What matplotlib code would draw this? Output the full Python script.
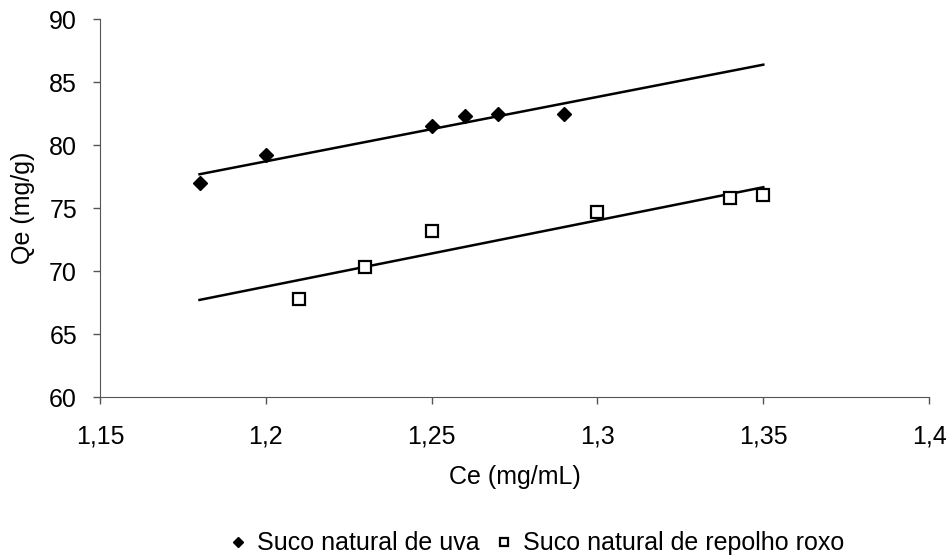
import matplotlib.pyplot as plt
import numpy as np

plt.rcParams['font.family'] = ['Liberation Sans', 'DejaVu Sans']

# Suco natural de uva
uva_ce = [1.18, 1.20, 1.25, 1.26, 1.27, 1.29]
uva_qe = [77.0, 79.2, 81.5, 82.3, 82.5, 82.5]

# Suco natural de repolho roxo
rep_ce = [1.21, 1.23, 1.25, 1.30, 1.34, 1.35]
rep_qe = [67.8, 70.3, 73.2, 74.7, 75.8, 76.0]

x_ticks = [1.15, 1.2, 1.25, 1.3, 1.35, 1.4]
x_labels = ["1,15", "1,2", "1,25", "1,3", "1,35", "1,4"]
y_ticks = [60, 65, 70, 75, 80, 85, 90]

fs = 18

fig = plt.figure(figsize=(9.5, 5.59), dpi=100)
ax = fig.add_axes([0.1053, 0.2898, 0.8727, 0.6762])

# linear trendlines (least squares), drawn over 1.18 - 1.35
xfit = np.array([1.18, 1.35])
for xs, ys in [(uva_ce, uva_qe), (rep_ce, rep_qe)]:
    m, b = np.polyfit(xs, ys, 1)
    ax.plot(xfit, m * xfit + b, color='black', lw=1.8, zorder=2)

ax.plot(uva_ce, uva_qe, 'D', color='black', ms=7, ls='none',
        label='Suco natural de uva', zorder=3)
ax.plot(rep_ce, rep_qe, 's', mfc='white', mec='black', mew=1.6, ms=8, ls='none',
        label='Suco natural de repolho roxo', zorder=3)

ax.set_xlim(1.15, 1.4)
ax.set_ylim(60, 90)
ax.set_xticks(x_ticks)
ax.set_xticklabels(x_labels)
ax.set_yticks(y_ticks)
ax.tick_params(labelsize=fs, direction='out', length=5, width=1, color='#555555')
ax.tick_params(axis='x', pad=14.5)
ax.tick_params(axis='y', pad=11.5)

for s in ['top', 'right']:
    ax.spines[s].set_visible(False)
for s in ['left', 'bottom']:
    ax.spines[s].set_color('#555555')

ax.set_xlabel('Ce (mg/mL)', fontsize=fs)
ax.set_ylabel('Qe (mg/g)', fontsize=fs)
ax.xaxis.set_label_coords(0.5, -0.18)
ax.yaxis.set_label_coords(-0.078, 0.5)

fig.legend(loc='center', bbox_to_anchor=(0.563, 0.028), ncol=2, frameon=False,
           fontsize=fs, handletextpad=0.26, columnspacing=0.5, markerscale=0.75,
           handlelength=1.0, borderpad=0)

fig.savefig('out.png', dpi=100)
